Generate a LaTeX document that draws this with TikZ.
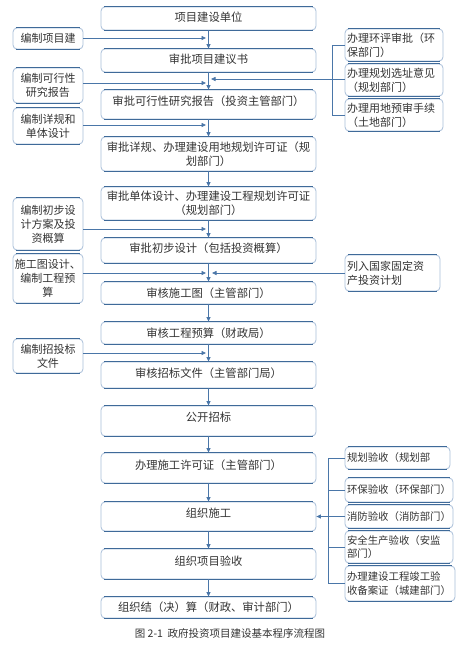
\documentclass[tikz,border=0pt]{standalone}
\usepackage{fontspec}
\newfontfamily\cjk{Noto Sans CJK SC}
\usetikzlibrary{arrows.meta}
\definecolor{edark}{HTML}{3F6A99}
\definecolor{elight}{HTML}{A9BFD9}
\definecolor{aline}{HTML}{4A76A8}
\definecolor{txt}{HTML}{333333}
\tikzset{
  box/.style={draw=elight, line width=0.8pt, rounded corners=4pt, fill=white, text=txt, inner sep=1pt},
  mainbox/.style={box, minimum width=215pt, align=center, font=\cjk\fontsize{11.3}{14}\selectfont},
  leftbox/.style={box, minimum width=70pt, align=center, font=\cjk\fontsize{11}{14}\selectfont},
  rightbox/.style={box, align=left, inner xsep=2pt, text width=#1, font=\cjk\fontsize{11}{14}\selectfont},
  rightboxs/.style={box, align=left, inner xsep=2pt, text width=#1, font=\cjk\fontsize{10.4}{13.5}\selectfont},
  conn/.style={draw=aline, line width=0.8pt},
  arr/.style={conn, -{Triangle[length=4.5pt,width=4pt]}},
}
\newcommand\edgesof[1]{\draw[edark, line width=1.5pt] ([xshift=3pt]#1.north west) -- ([xshift=-3pt]#1.north east) ([xshift=3pt]#1.south west) -- ([xshift=-3pt]#1.south east);}
\newcommand\up[2]{\raisebox{#1}[\height][\depth]{#2}}
\begin{document}
\begin{tikzpicture}[x=1pt, y=-1pt]
\useasboundingbox[fill=white] (0,0) rectangle (464,646);
% main column
\node[mainbox, minimum height=23pt] (b1) at (208.5,18.5) {\up{1pt}{项目建设单位}};
\node[mainbox, minimum height=23pt] (b2) at (208.5,60.5) {\up{1pt}{审批项目建议书}};
\node[mainbox, minimum height=29pt] (b3) at (208.5,104.5) {\up{3.5pt}{审批可行性研究报告（投资主管部门）}};
\node[mainbox, minimum height=34pt] (b4) at (208.5,154) {审批详规、办理建设用地规划许可证（规\\划部门）};
\node[mainbox, minimum height=33pt] (b5) at (208.5,203.5) {审批单体设计、办理建设工程规划许可证\\（规划部门）};
\node[mainbox, minimum height=25pt] (b6) at (208.5,250.5) {\up{2pt}{审批初步设计（包括投资概算）}};
\node[mainbox, minimum height=22pt] (b7) at (208.5,293) {审核施工图（主管部门）};
\node[mainbox, minimum height=22pt] (b8) at (208.5,333) {审核工程预算（财政局）};
\node[mainbox, minimum height=26pt] (b9) at (208.5,375) {\up{2pt}{审核招标文件（主管部门局）}};
\node[mainbox, minimum height=30pt] (b10) at (208.5,421) {\up{4pt}{公开招标}};
\node[mainbox, minimum height=30pt] (b11) at (208.5,468) {\up{3pt}{办理施工许可证（主管部门）}};
\node[mainbox, minimum height=29pt] (b12) at (208.5,516.5) {\up{3.5pt}{组织施工}};
\node[mainbox, minimum height=30pt] (b13) at (208.5,564) {\up{3pt}{组织项目验收}};
\node[mainbox, minimum height=21pt] (b14) at (208.5,607.5) {组织结（决）算（财政、审计部门）};
% left column
\node[leftbox, minimum height=21pt] (L1) at (48,38.5) {编制项目建};
\node[leftbox, minimum height=35pt] (L2) at (48,85.5) {编制可行性\\研究报告};
\node[leftbox, minimum height=36pt] (L3) at (48,126) {编制详规和\\单体设计};
\node[leftbox, minimum height=52pt] (L4) at (48,224) {编制初步设\\计方案及投\\资概算};
\node[leftbox, minimum height=49pt] (L5) at (48,278.5) {施工图设计、\\编制工程预\\算};
\node[leftbox, minimum height=34pt] (L6) at (48,356) {编制招投标\\文件};
% right column top
\node[rightbox=94pt, minimum height=32pt] (R1) at (394,45) {办理环评审批（环\\保部门）};
\node[rightbox=94pt, minimum height=32pt] (R2) at (394,80) {办理规划选址意见\\（规划部门）};
\node[rightbox=94pt, minimum height=32pt] (R3) at (394,115) {办理用地预审手续\\（土地部门）};
\node[rightbox=91pt, minimum height=36pt] (R4) at (392.5,273) {列入国家固定资\\产投资计划};
% right column bottom
\node[rightboxs=101pt, minimum height=22pt] (R5) at (397.5,458) {规划验收（规划部};
\node[rightboxs=104pt, minimum height=24pt] (R6) at (399,490) {环保验收（环保部门）};
\node[rightboxs=104pt, minimum height=23pt] (R7) at (399,516.5) {消防验收（消防部门）};
\node[rightboxs=104pt, minimum height=32pt] (R8) at (399,547) {安全生产验收（安监\\部门）};
\node[rightboxs=106pt, minimum height=35pt] (R9) at (400,583.5) {办理建设工程竣工验\\收备案证（城建部门）};
% thick top/bottom edges
\foreach \n in {b1,b2,b3,b4,b5,b6,b7,b8,b9,b10,b11,b12,b13,b14,L1,L2,L3,L4,L5,L6,R1,R2,R3,R4,R5,R6,R7,R8,R9}{\edgesof{\n}}
% vertical flow
\foreach \a/\b in {b1/b2,b2/b3,b3/b4,b4/b5,b5/b6,b6/b7,b7/b8,b8/b9,b9/b10,b10/b11,b11/b12,b12/b13,b13/b14}
  {\draw[arr] (\a.south) -- (\b.north);}
% left inputs
\coordinate (c1) at (206,38);
\coordinate (c2) at (206,83);
\coordinate (c3) at (206,125);
\coordinate (c4) at (206,229);
\coordinate (c5) at (206,273);
\coordinate (c6) at (206,353);
\foreach \l/\c in {L1/c1,L2/c2,L3/c3,L4/c4,L5/c5,L6/c6}
  {\draw[arr] (\l.east |- \c) -- (\c);}
% right top bracket
\coordinate (t1) at (332,45);
\coordinate (t3) at (332,115);
\coordinate (t2) at (332,79);
\coordinate (ct) at (211,79);
\draw[conn] (R1.west) -- (t1) -- (t3) -- (R3.west);
\draw[conn] (R2.west |- t2) -- (t2);
\draw[arr] (t2) -- (ct);
% R4 input
\coordinate (c7) at (212,273);
\draw[arr] (R4.west) -- (c7);
% right bottom bracket
\coordinate (u1) at (328,458);
\coordinate (u9) at (328,583.5);
\coordinate (u7) at (328,516.5);
\draw[conn] (R5.west) -- (u1) -- (u9) -- (R9.west);
\draw[conn] (R6.west) -- (R6.west -| u1);
\draw[conn] (R7.west) -- (u7);
\draw[conn] (R8.west) -- (R8.west -| u1);
\draw[arr] (u7) -- (b12.east);
% caption
\node[text=txt, font=\cjk\fontsize{10.5}{12}\selectfont] (cap) at (230,633) {图 2-1\ \ 政府投资项目建设基本程序流程图};
\end{tikzpicture}
\end{document}
